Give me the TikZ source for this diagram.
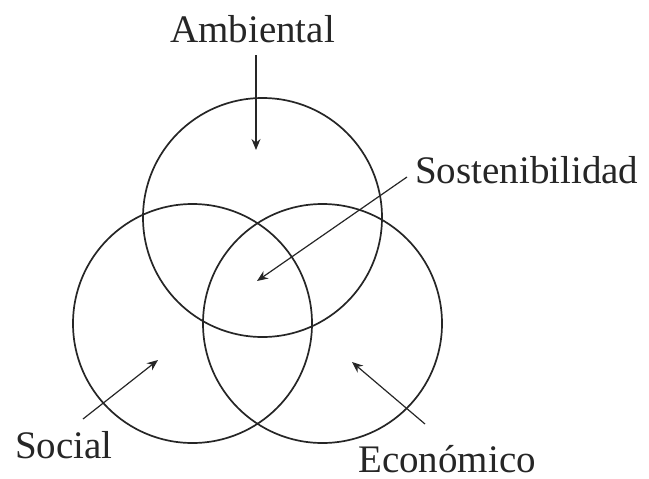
\documentclass[tikz,border=0pt]{standalone}
\usepackage{fontspec}
\setmainfont{Liberation Serif}
\usetikzlibrary{arrows.meta}
\begin{document}
\begin{tikzpicture}[x=1pt,y=-1pt,
  ring/.style={draw=black!85,line width=1.7pt},
  pointer/.style={draw=black!85,line width=1.2pt,-{Stealth[length=11pt,width=9pt]}},
  lbl/.style={font=\fontsize{39}{46}\selectfont,anchor=base west,inner sep=0pt,text=black!85}]
\useasboundingbox (0,0) rectangle (649,479);
\node[ring,circle,minimum size=239pt,inner sep=0pt] (top) at (262.5,217.5) {};
\node[ring,circle,minimum size=239pt,inner sep=0pt] (left) at (192.5,323.5) {};
\node[ring,circle,minimum size=239pt,inner sep=0pt] (right) at (322.5,323.5) {};
\node[lbl] (amb) at (170,42) {Ambiental};
\node[lbl] (sos) at (415,183) {Sostenibilidad};
\node[lbl] (soc) at (15,458) {Social};
\node[lbl,text depth=0pt] (eco) at (358,472) {Económico};
\coordinate (a1) at (256,55);
\coordinate (a2) at (256,150);
\coordinate (s1) at (407,177);
\coordinate (s2) at (257,281);
\coordinate (c1) at (83,419);
\coordinate (c2) at (158,360);
\coordinate (e1) at (425,424);
\coordinate (e2) at (352,362);
\draw[pointer] (a1) -- (a2);
\draw[pointer] (s1) -- (s2);
\draw[pointer] (c1) -- (c2);
\draw[pointer] (e1) -- (e2);
\end{tikzpicture}
\end{document}
